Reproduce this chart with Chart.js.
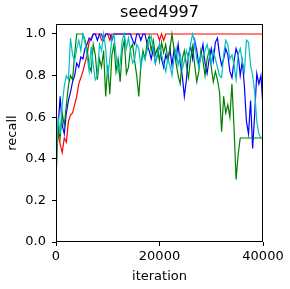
<!DOCTYPE html>
<html><head><meta charset="utf-8">
<script src="https://cdn.jsdelivr.net/npm/chart.js@4/dist/chart.umd.min.js"></script>
<style>html,body{margin:0;padding:0;background:#fff}#w{width:290px;height:289px}</style>
</head><body><div id="w"><canvas id="c"></canvas></div>
<script>
const STEP = 400;
const iterations = Array.from({length: 101}, (_, i) => i * STEP);
const xTicks = [0, 20000, 40000];
const yTicks = [0, 0.2, 0.4, 0.6, 0.8, 1.0];
const TITLE = 'seed4997';

const red = [0.45,0.52,0.47,0.43,0.50,0.48,0.58,0.61,0.62,0.66,0.70,0.76,0.79,0.82,0.86,0.90,0.96,0.98,1,1,
1,1,0.97,0.97,1,1,0.97,1,1,1, 1,1,1,1,1,1,1,1,1,1, 1,1,1,1,1,1,1,1,1,1,
0.97,1,0.97,1,1,1,1,1,1,1, 1,1,1,1,1,1,1,1,1,1, 1,1,1,1,1,1,1,1,1,1,
1,1,1,1,1,1,1,1,1,1, 1,1,1,1,1,1,1,1,1,1, 1];
const blue = [0.45,0.55,0.70,0.56,0.52,0.62,0.68,0.72,0.77,0.80,0.86,0.84,0.89,0.88,0.93,0.95,0.98,0.97,1,1,
0.97,1,1,0.97,1,1,1,0.97,1,1, 1,1,1,1,1,1,1,0.97,0.95,1, 1,0.97,1,1,0.95,0.92,0.88,0.93,0.86,0.90,
0.95,0.88,0.84,0.90,0.87,0.93,0.85,0.92,0.88,0.95, 0.86,0.80,0.70,0.78,0.90,0.94,0.88,0.97,0.92,0.85,
0.90,0.95,0.86,0.81,0.88,0.93,0.87,0.96,0.98,0.90, 0.85,0.88,0.93,0.90,0.82,0.79,0.87,0.93,0.90,0.80,
0.87,0.75,0.58,0.52,0.68,0.45,0.62,0.81,0.76,0.80, 0.65];
const green = [0.30,0.55,0.50,0.62,0.56,0.66,0.75,0.80,0.78,0.90,1,1,1,1,0.97,0.93,0.85,0.82,0.95,0.90,
0.78,0.88,0.84,0.92,0.70,0.85,0.71,0.90,0.95,0.82, 0.88,0.77,0.92,0.97,0.81,0.84,0.93,0.95,0.87,0.80,
0.70,0.85,0.92,0.88,0.96,0.99,0.92,0.97,0.90,0.93, 0.87,0.96,0.91,0.95,0.88,0.92,1,0.93,0.86,0.80,
0.76,0.88,0.92,0.85,0.79,0.88,0.94,0.85,0.77,0.82, 0.92,0.87,0.80,0.88,0.92,0.84,0.77,0.82,0.78,0.72,
0.53,0.70,0.62,0.66,0.60,0.76,0.55,0.30,0.42,0.50, 0.5,0.5,0.5,0.5,0.5,0.5,0.5,0.5,0.5,0.5, 0.5];
const cyan = [0.35,0.60,0.52,0.66,0.75,0.80,0.78,0.98,0.90,0.87,0.93,0.97,0.92,1,0.96,0.90,0.82,0.94,0.85,0.78,
0.80,0.95,0.92,1,0.93,0.79,0.88,0.98,1,0.90, 0.82,0.86,0.97,1,0.93,0.98,0.92,0.86,0.88,0.95,
0.93,0.84,0.90,0.88,0.92,0.97,0.99,0.92,0.86,0.90, 0.95,0.90,0.86,0.82,0.88,0.85,0.80,0.88,0.93,0.85,
0.90,0.83,0.87,0.92,0.88,0.95,1,0.96,0.88,0.84, 0.90,0.88,0.92,0.95,0.90,0.86,0.92,0.88,0.84,0.80,
0.79,0.90,0.97,0.95,0.88,0.90,0.85,0.78,0.90,0.93, 0.87,0.82,0.97,0.96,0.85,0.80,0.72,0.58,0.52,0.50, 0.50];

function pts(arr){ return arr.map((v,i)=>({x: iterations[i], y: v})); }
const FONT = "'DejaVu Sans', sans-serif";

const frame = {
  id: 'frame',
  afterDatasetsDraw(chart){
    const a = chart.chartArea, ctx = chart.ctx;
    ctx.save(); ctx.strokeStyle = '#000'; ctx.lineWidth = 1;
    ctx.strokeRect(Math.round(a.left)+0.5, Math.round(a.top)+0.5, Math.round(a.right-a.left)-1, Math.round(a.bottom-a.top)-1);
    ctx.fillStyle = '#000'; ctx.font = '16px ' + FONT; ctx.textAlign = 'center'; ctx.textBaseline = 'alphabetic';
    ctx.fillText(TITLE, (a.left + a.right) / 2, a.top - 7);
    ctx.restore();
  }
};

const ds = (label, data, color, order) => ({label, data: pts(data), borderColor: color, borderWidth: 1.2,
  pointRadius: 0, tension: 0, fill: false, order});

new Chart(document.getElementById('c'), {
  type: 'line',
  data: { datasets: [
    ds('red', red, '#ff0000', 3),
    ds('blue', blue, '#0000ff', 2),
    ds('green', green, '#008000', 1),
    ds('cyan', cyan, '#00bfbf', 0)
  ]},
  plugins: [frame],
  options: {
    responsive: true, maintainAspectRatio: false, animation: false,
    layout: { padding: { left: 0, right: 27, top: 24, bottom: 0 } },
    plugins: {
      legend: { display: false }, tooltip: { enabled: false }, title: { display: false }
    },
    scales: {
      x: { type: 'linear', min: 0, max: 40000,
        afterBuildTicks: s => { s.ticks = xTicks.map(v => ({value: v})); },
        afterFit: s => { s.height = 47; s.paddingLeft = 0; s.paddingRight = 0; },
        ticks: { color: '#000', font: { family: FONT, size: 13 }, padding: 3, maxRotation: 0, callback: v => String(v) },
        grid: { drawOnChartArea: false, drawTicks: true, tickLength: 4, color: '#000' },
        border: { display: false },
        title: { display: true, text: 'iteration', color: '#000', font: { family: FONT, size: 13 }, padding: { top: 0, bottom: 5 } }
      },
      y: { type: 'linear', min: 0, max: 1.048,
        afterBuildTicks: s => { s.ticks = yTicks.map(v => ({value: v})); },
        afterFit: s => { s.width = 56; s.paddingTop = 0; s.paddingBottom = 0; },
        ticks: { color: '#000', font: { family: FONT, size: 13 }, padding: 6, callback: v => Number(v).toFixed(1) },
        grid: { drawOnChartArea: false, drawTicks: true, tickLength: 4, color: '#000' },
        border: { display: false },
        title: { display: true, text: 'recall', color: '#000', font: { family: FONT, size: 13 }, padding: { top: 5, bottom: 0 } }
      }
    }
  }
});
</script></body></html>
